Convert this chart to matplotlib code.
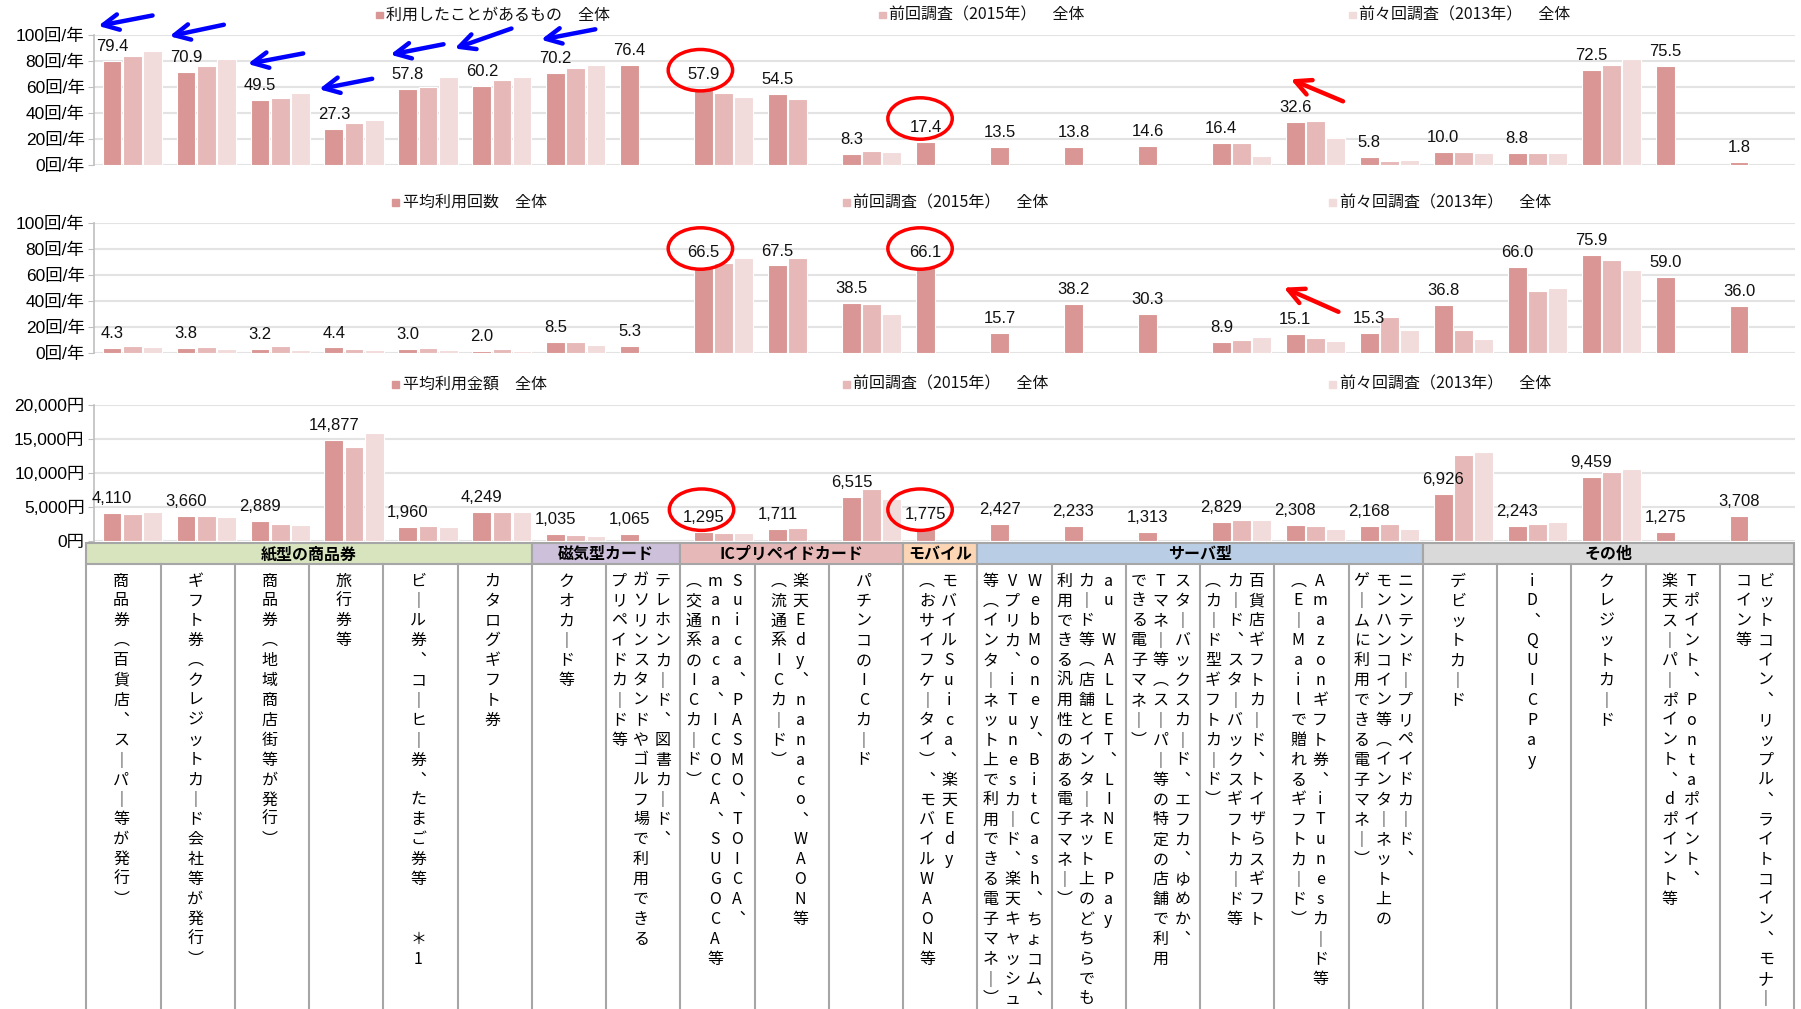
import matplotlib
matplotlib.use('Agg')
import matplotlib.pyplot as plt
import numpy as np
from matplotlib.patches import Rectangle, Ellipse, FancyArrowPatch

plt.rcParams['font.family'] = ['Liberation Sans', 'Noto Sans CJK JP', 'DejaVu Sans']

nan = np.nan

# ---------------- data ----------------
legend_prev = '前回調査（2015年）　全体'
legend_prev2 = '前々回調査（2013年）　全体'
panel_titles = ['利用したことがあるもの　全体', '平均利用回数　全体', '平均利用金額　全体']

used_now = [79.4, 70.9, 49.5, 27.3, 57.8, 60.2, 70.2, 76.4, 57.9, 54.5, 8.3, 17.4,
            13.5, 13.8, 14.6, 16.4, 32.6, 5.8, 10.0, 8.8, 72.5, 75.5, 1.8]
used_2015 = [83.3, 75.6, 51.3, 31.8, 60.0, 64.9, 74.6, nan, 55.1, 50.3, 10.3, nan,
             nan, nan, nan, 16.2, 33.5, 2.7, 9.9, 8.7, 76.3, nan, nan]
used_2013 = [87.7, 81.5, 55.1, 34.6, 67.7, 67.7, 76.7, nan, 52.1, nan, 9.3, nan,
             nan, nan, nan, 6.8, 20.5, 3.5, 9.0, 8.6, 81.5, nan, nan]

times_now = [4.3, 3.8, 3.2, 4.4, 3.0, 2.0, 8.5, 5.3, 66.5, 67.5, 38.5, 66.1,
             15.7, 38.2, 30.3, 8.9, 15.1, 15.3, 36.8, 66.0, 75.9, 59.0, 36.0]
times_2015 = [5.6, 5.1, 5.2, 3.1, 3.8, 3.0, 8.6, nan, 69.3, 73.2, 37.5, nan,
              nan, nan, nan, 10.0, 12.0, 27.7, 18.0, 48.2, 71.8, nan, nan]
times_2013 = [4.8, 3.6, 2.6, 2.4, 2.6, 1.8, 6.6, nan, 73.2, nan, 29.8, nan,
              nan, nan, nan, 12.8, 9.2, 18.0, 11.3, 50.3, 64.1, nan, nan]

amount_now = [4110, 3660, 2889, 14877, 1960, 4249, 1035, 1065, 1295, 1711, 6515, 1775,
              2427, 2233, 1313, 2829, 2308, 2168, 6926, 2243, 9459, 1275, 3708]
amount_2015 = [4000, 3600, 2400, 13800, 2100, 4200, 900, nan, 1200, 1900, 7600, nan,
               nan, nan, nan, 3100, 2200, 2500, 12700, 2400, 10100, nan, nan]
amount_2013 = [4200, 3500, 2300, 15800, 2000, 4200, 700, nan, 1100, nan, 6100, nan,
               nan, nan, nan, 3000, 1700, 1700, 13100, 2700, 10600, nan, nan]

# category names, one entry per text column (read right to left)
categories = [
    ['商品券（百貨店、スーパー等が発行）'],
    ['ギフト券（クレジットカード会社等が発行）'],
    ['商品券（地域商店街等が発行）'],
    ['旅行券等'],
    ['ビール券、コーヒー券、たまご券等　　＊1'],
    ['カタログギフト券'],
    ['クオカード等'],
    ['テレホンカード、図書カード、', 'ガソリンスタンドやゴルフ場で利用できる', 'プリペイドカード等'],
    ['Suica、PASMO、TOICA、', 'manaca、ICOCA、SUGOCA等', '（交通系のICカード）'],
    ['楽天Edy、nanaco、WAON等', '（流通系ICカード）'],
    ['パチンコのICカード'],
    ['モバイルSuica、楽天Edy', '（おサイフケータイ）、モバイルWAON等'],
    ['WebMoney、BitCash、ちょコム、', 'Vプリカ、iTunesカード、楽天キャッシュ',
     '等（インターネット上で利用できる電子マネー）'],
    ['au WALLET、LINE Pay', 'カード等（店舗とインターネット上のどちらでも',
     '利用できる汎用性のある電子マネー）'],
    ['スターバックスカード、エフカ、ゆめか、', 'Tマネー等（スーパー等の特定の店舗で利用', 'できる電子マネー）'],
    ['百貨店ギフトカード、トイザらスギフト', 'カード、スターバックスギフトカード等', '（カード型ギフトカード）'],
    ['Amazonギフト券、iTunesカード等', '（E－Mailで贈れるギフトカード）'],
    ['ニンテンドープリペイドカード、', 'モンハンコイン等（インターネット上の', 'ゲームに利用できる電子マネー）'],
    ['デビットカード'],
    ['iD、QUICPay'],
    ['クレジットカード'],
    ['Tポイント、Pontaポイント、', '楽天スーパーポイント、dポイント等'],
    ['ビットコイン、リップル、ライトコイン、モナー', 'コイン等'],
]

groups = ['紙型の商品券', '磁気型カード', 'ICプリペイドカード', 'モバイル', 'サーバ型', 'その他']
group_sizes = [6, 2, 3, 1, 6, 5]
group_colors = ['#d7e4bd', '#ccc0da', '#e6b9b8', '#fcd5b5', '#b9cde5', '#d9d9d9']

bar_colors = ['#d99694', '#e6b9b8', '#f2dcdb']

# ---------------- layout helpers (reference measured in 1566 x 877 units) ----------------
W, H = 1566.0, 877.0


def fx(x):
    return x / W


def fy(y):
    return 1 - y / H


fig = plt.figure(figsize=(18.01, 10.09), dpi=100)


def draw_panel(top, bottom, now, prev, prev2, ymax, ticks, ticklabels, fmt):
    ax = fig.add_axes([fx(82), fy(bottom), fx(1561) - fx(82), fy(top) - fy(bottom)])
    x = np.arange(len(now))
    for j, (vals, col) in enumerate(zip([now, prev, prev2], bar_colors)):
        ax.bar(x + 0.24 + 0.272 * j, vals, width=0.255, color=col,
               edgecolor='white', linewidth=0.8, zorder=2)
    for xi, v in zip(x, now):
        ax.annotate(fmt(v), (xi + 0.24, v), xytext=(0, 5), textcoords='offset points',
                    ha='center', va='bottom', fontsize=12, color='#111111')
    ax.set_xlim(0, len(now))
    ax.set_ylim(0, ymax)
    ax.set_yticks(ticks)
    ax.set_yticklabels(ticklabels)
    ax.set_xticks([])
    ax.grid(axis='y', color='#e3e3e3', linewidth=1.5, zorder=0)
    ax.set_axisbelow(True)
    for s in ['top', 'right', 'bottom']:
        ax.spines[s].set_visible(False)
    ax.spines['left'].set_color('#bfbfbf')
    ax.spines['left'].set_linewidth(1.2)
    ax.tick_params(axis='y', length=4, color='#bfbfbf', pad=3, labelsize=12.5)
    return ax


def legend_row(y, xs, labels):
    for x, lab, col in zip(xs, labels, bar_colors):
        fig.add_artist(Rectangle((fx(x - 3), fy(y + 3)), 6 / W, 6 / H,
                                 transform=fig.transFigure, color=col))
        fig.text(fx(x + 6), fy(y), lab, fontsize=11.5, va='center', ha='left',
                 family=['Noto Sans CJK JP', 'DejaVu Sans'], color='#111111')


count_ticks = [0, 20, 40, 60, 80, 100]
count_labels = ['%d回/年' % t for t in count_ticks]
yen_ticks = [0, 5000, 10000, 15000, 20000]
yen_labels = ['{:,}円'.format(t) for t in yen_ticks]

draw_panel(30, 143, used_now, used_2015, used_2013, 100, count_ticks, count_labels,
           lambda v: '%.1f' % v)
draw_panel(194, 307, times_now, times_2015, times_2013, 100, count_ticks, count_labels,
           lambda v: '%.1f' % v)
draw_panel(352, 470, amount_now, amount_2015, amount_2013, 20000, yen_ticks, yen_labels,
           lambda v: '{:,}'.format(int(v)))

legend_row(13, [330, 767, 1176], [panel_titles[0], legend_prev, legend_prev2])
legend_row(176, [344, 736, 1159], [panel_titles[1], legend_prev, legend_prev2])
legend_row(334, [344, 736, 1159], [panel_titles[2], legend_prev, legend_prev2])

# ---------------- category table ----------------
tax = fig.add_axes([fx(75), 0, fx(1560) - fx(75), fy(472)])
tax.set_xlim(0, len(categories))
tax.set_ylim(405, 0)
tax.axis('off')
line_col = '#a6a6a6'
start = 0
for name, size, col in zip(groups, group_sizes, group_colors):
    tax.add_patch(Rectangle((start, 0), size, 18, facecolor=col, edgecolor=line_col,
                            linewidth=1.5, clip_on=False))
    tax.text(start + size / 2, 9.5, name, ha='center', va='center', fontsize=11.5,
             fontweight='bold', family=['Noto Sans CJK JP', 'DejaVu Sans'])
    start += size
for k in range(len(categories) + 1):
    tax.plot([k, k], [18, 405], color=line_col, linewidth=1.5, clip_on=False)

vmap = {'ー': '｜', '－': '｜', '（': '︵', '）': '︶', '、': '︑'}
pitch = 17.3
gap = 0.295
for i, lines in enumerate(categories):
    n = len(lines)
    for j, line in enumerate(lines):
        xc = i + 0.47 + (n - 1) / 2 * gap - j * gap
        for k, ch in enumerate(line):
            if ch == ' ':
                continue
            tax.text(xc, 33 + k * pitch, vmap.get(ch, ch), ha='center', va='center',
                     fontsize=11.5, family=['Noto Sans CJK JP', 'DejaVu Sans'],
                     clip_on=True)

# ---------------- hand-drawn annotations ----------------
blue_arrows = [((135, 13), (83, 23)), ((197, 21), (145, 32)), ((266, 46), (213, 56)),
               ((326, 68), (275, 78)), ((388, 38), (337, 48)), ((447, 24), (393, 43)),
               ((520, 25), (468, 35))]
red_arrows = [((1170, 89), (1120, 68)), ((1166, 272), (1114, 249))]
for arrows, col in [(blue_arrows, '#0000ff'), (red_arrows, '#ff0000')]:
    for (tx, ty), (hx, hy) in arrows:
        fig.add_artist(FancyArrowPatch((fx(tx), fy(ty)), (fx(hx), fy(hy)),
                                       transform=fig.transFigure, arrowstyle='->',
                                       mutation_scale=28, linewidth=3.2, color=col))

ellipses = [(609, 61), (800, 103), (609, 216), (800, 216), (610, 443), (800, 443)]
for cx, cy in ellipses:
    fig.add_artist(Ellipse((fx(cx), fy(cy)), 56 / W, 36 / H, transform=fig.transFigure,
                           fill=False, edgecolor='#ff0000', linewidth=2.5))

fig.savefig('out.png', dpi=100)
